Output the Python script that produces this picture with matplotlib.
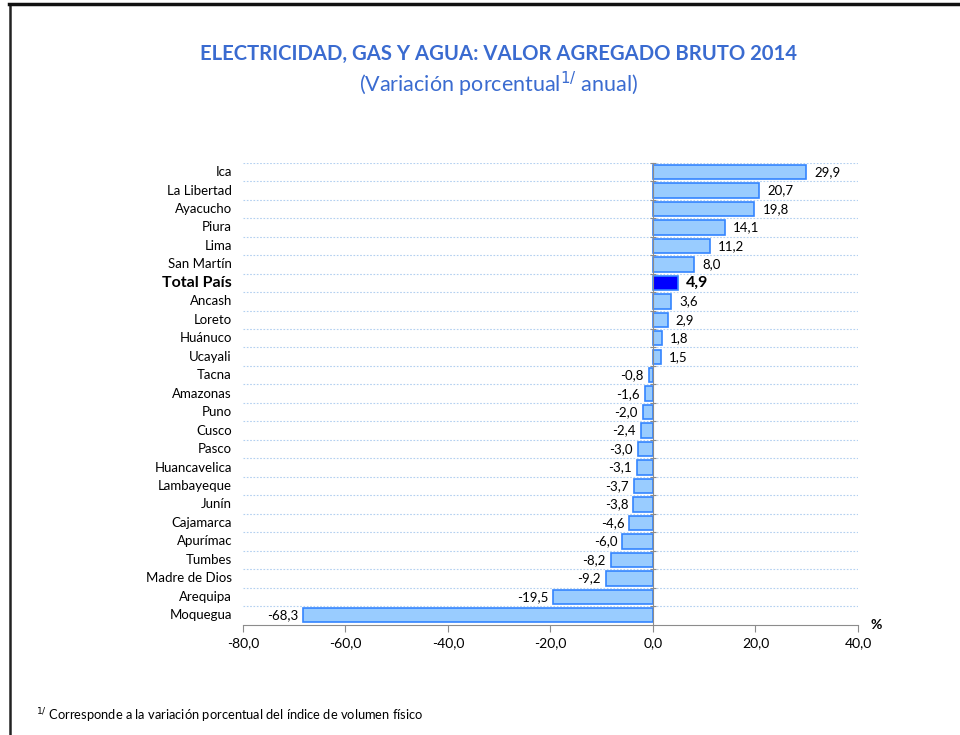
import numpy as np
import matplotlib.pyplot as plt
from matplotlib.lines import Line2D

plt.rcParams['font.family'] = ['Lato', 'DejaVu Sans']

regiones = ['Ica', 'La Libertad', 'Ayacucho', 'Piura', 'Lima', 'San Martín',
            'Total País', 'Ancash', 'Loreto', 'Huánuco', 'Ucayali', 'Tacna',
            'Amazonas', 'Puno', 'Cusco', 'Pasco', 'Huancavelica', 'Lambayeque',
            'Junín', 'Cajamarca', 'Apurímac', 'Tumbes', 'Madre de Dios',
            'Arequipa', 'Moquegua']
variacion = [29.9, 20.7, 19.8, 14.1, 11.2, 8.0, 4.9, 3.6, 2.9, 1.8, 1.5, -0.8,
             -1.6, -2.0, -2.4, -3.0, -3.1, -3.7, -3.8, -4.6, -6.0, -8.2, -9.2,
             -19.5, -68.3]
xticks = [-80, -60, -40, -20, 0, 20, 40]

def fmt(v):
    return f'{v:.1f}'.replace('.', ',')

fig = plt.figure(figsize=(9.6, 7.35), dpi=100)
ax = fig.add_axes([0.2531, 0.1503, 0.6406, 0.6282])

y = np.arange(len(regiones))
colores = ['#0000FF' if r == 'Total País' else '#99CCFF' for r in regiones]
ax.barh(y, variacion, height=0.78, color=colores, edgecolor='#3385FF', linewidth=1.2, zorder=3)

ax.set_xlim(-80, 40)
ax.set_ylim(len(regiones) - 0.5, -0.5)

# dotted grid between rows
for b in np.arange(-0.5, len(regiones) - 0.5, 1.0):
    ax.axhline(b, color='#B3D0F0', lw=0.8, ls=(0, (1.5, 1.5)), zorder=1)

for s in ['top', 'right']:
    ax.spines[s].set_visible(False)
ax.spines['left'].set_position(('data', 0))
ax.spines['left'].set_color('#8C8C8C')
ax.spines['left'].set_zorder(4)
ax.spines['bottom'].set_color('#8C8C8C')

ax.set_yticks(np.arange(-0.5, len(regiones) - 0.5, 1.0))
ax.set_yticklabels([])
ax.tick_params(axis='y', direction='inout', length=5, color='#8C8C8C')
ax.set_xticks(xticks)
ax.set_xticklabels([fmt(t) for t in xticks], fontsize=10)
ax.tick_params(axis='x', direction='out', length=5, color='#8C8C8C', pad=4)

for i, (r, v) in enumerate(zip(regiones, variacion)):
    bold = r == 'Total País'
    ax.annotate(r, xy=(0, i), xycoords=('axes fraction', 'data'),
                xytext=(-11, 0), textcoords='offset pixels',
                ha='right', va='center', fontsize=11.5 if bold else 9.5,
                fontweight='bold' if bold else 'normal')
    off = 8 if v >= 0 else -5
    ax.annotate(fmt(v), xy=(v, i), xytext=(off, 0), textcoords='offset pixels',
                ha='left' if v >= 0 else 'right', va='center',
                fontsize=11.5 if bold else 9.5,
                fontweight='bold' if bold else 'normal', zorder=5)

ax.text(1.02, 0.0, '%', transform=ax.transAxes, ha='left', va='center',
        fontsize=10, fontweight='bold')

fig.text(0.519, 0.926, 'ELECTRICIDAD, GAS Y AGUA: VALOR AGREGADO BRUTO 2014',
         ha='center', va='center', fontsize=14.6, fontweight='bold', color='#3A6BD0')
fig.text(0.519, 0.885, r'(Variación porcentual$^{1/}$ anual)',
         ha='center', va='center', fontsize=15.5, color='#3A6BD0')

fig.text(0.038, 0.026, r'$^{1/}$ Corresponde a la variación porcentual del índice de volumen físico',
         ha='left', va='center', fontsize=9.3)

# page border
fig.add_artist(Line2D([10 / 960, 10 / 960], [0, 1 - 4 / 735], transform=fig.transFigure,
                      color='#222222', lw=1.8))
fig.add_artist(Line2D([9 / 960, 1], [1 - 4 / 735, 1 - 4 / 735], transform=fig.transFigure,
                      color='#111111', lw=2.5))

fig.savefig('out.png', dpi=100)
